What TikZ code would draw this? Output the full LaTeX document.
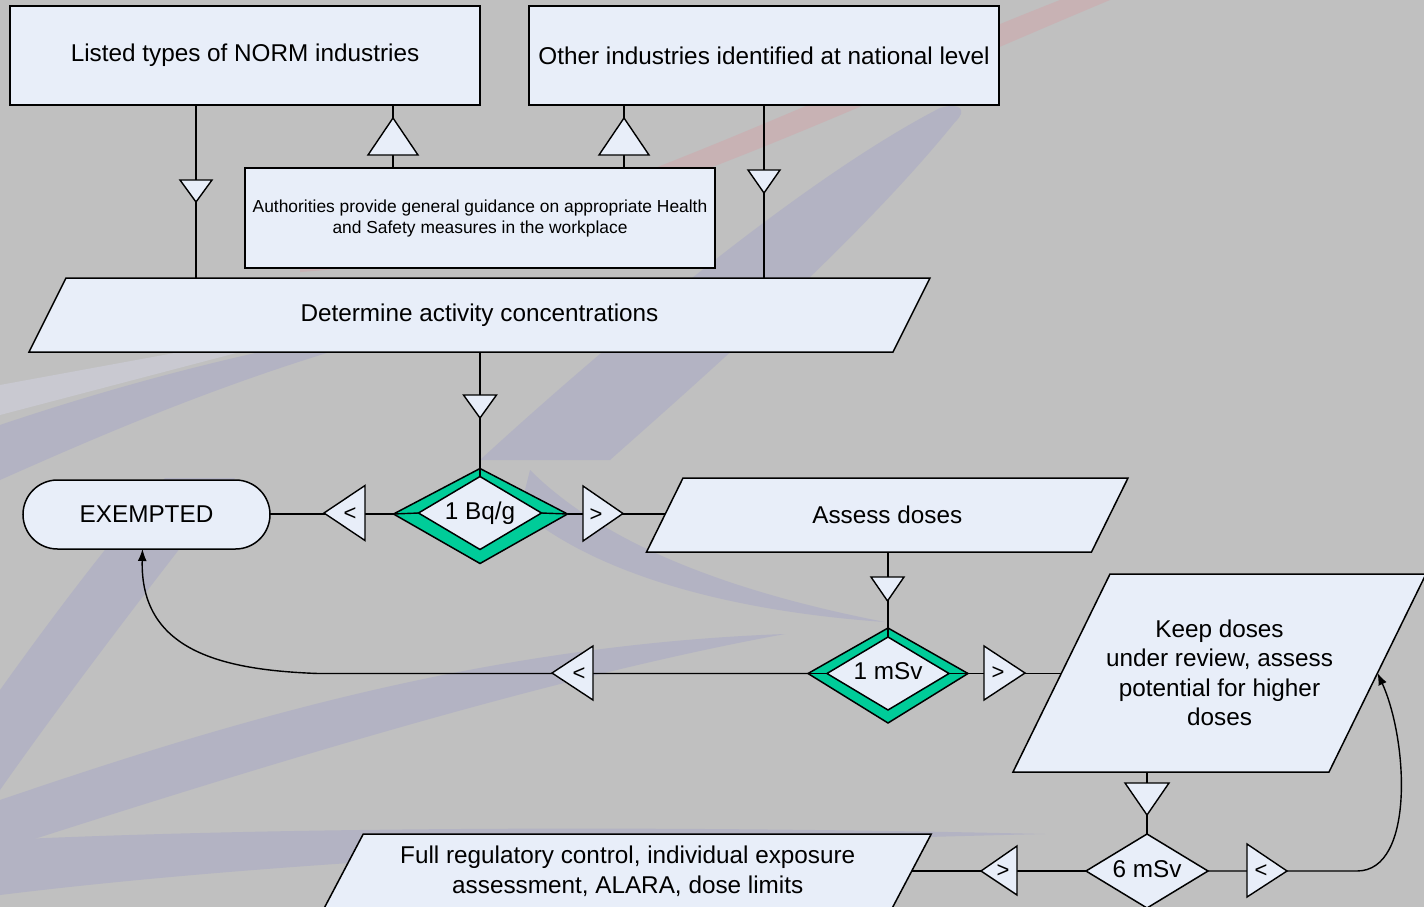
\documentclass[tikz,border=0pt]{standalone}
\usepackage{fontspec}
\setmainfont{Liberation Sans}
\usetikzlibrary{calc,shapes.geometric,arrows.meta}
\pgfdeclarelayer{bglayer}
\pgfdeclarelayer{backlayer}
\pgfsetlayers{bglayer,backlayer,main}
\definecolor{bgc}{RGB}{192,192,192}
\definecolor{boxfill}{RGB}{232,238,249}
\definecolor{bevel}{RGB}{0,204,153}
\definecolor{bandb}{RGB}{179,179,195}
\definecolor{bandl}{RGB}{201,201,209}
\definecolor{bandr}{RGB}{200,178,180}
\tikzset{
  big/.style={font=\fontsize{24.3}{29.5}\selectfont},
  small/.style={font=\fontsize{17.4}{21}\selectfont},
  box/.style={draw=black, line width=1.5pt, fill=boxfill},
  rectbox/.style={box, big, inner sep=0pt, outer sep=0pt, anchor=north west},
  paranode/.style={big, inner sep=0pt, outer sep=0pt, align=center},
  conn/.style={draw=black, line width=1.4pt},
  trist/.style={draw=black, line width=1.4pt, fill=boxfill, line join=miter},
  sign/.style={font=\fontsize{22}{22}\selectfont, inner sep=0pt},
  dia/.style={diamond, box, big, inner sep=0pt, outer sep=0pt, shape aspect=1.68, text height=17pt, text depth=5pt},
  bevelfill/.style={fill=bevel, draw=black, line width=1.5pt, line join=miter},
  arr/.style={conn, -{Latex[length=12pt,width=9pt]}}
}
\newcommand\paral[2]{\draw[box] ($(#1.north west)+(#2,0)$) -- ($(#1.north east)+(#2,0)$) -- ($(#1.south east)-(#2,0)$) -- ($(#1.south west)-(#2,0)$) -- cycle;}
\begin{document}
\begin{tikzpicture}[x=1pt,y=-1pt]
\useasboundingbox (0,0) rectangle (1424,907);
\begin{pgfonlayer}{bglayer}
\fill[bgc] (0,0) rectangle (1424,907);
% watermark swooshes
\fill[bandr] (300,272) .. controls (550,255) and (800,130) .. (1110,0) -- (1060,0) .. controls (780,110) and (540,240) .. (300,262) -- cycle;
\fill[bandb] (480,460) .. controls (600,350) and (800,180) .. (940,108) .. controls (960,102) and (968,110) .. (955,122) .. controls (860,240) and (700,380) .. (610,460) -- cycle;
\fill[bandb] (530,470) .. controls (600,540) and (720,590) .. (885,622) .. controls (740,612) and (600,578) .. (520,510) -- cycle;
\fill[bandl] (0,385) -- (180,352) -- (240,352) -- (0,415) -- cycle;
\fill[bandb] (0,425) .. controls (80,398) and (170,372) .. (260,352) -- (330,352) .. controls (200,392) and (90,440) .. (0,480) -- cycle;
\fill[bandb] (0,690) .. controls (50,620) and (110,540) .. (165,478) -- (235,478) .. controls (170,560) and (70,690) .. (0,790) -- cycle;
\fill[bandb] (0,800) .. controls (220,725) and (480,645) .. (785,634) .. controls (560,675) and (280,760) .. (0,850) -- cycle;
\fill[bandb] (0,840) .. controls (300,826) and (700,826) .. (1045,834) .. controls (700,842) and (300,858) .. (0,895) -- cycle;
\end{pgfonlayer}

% nodes
\node[rectbox, minimum width=470pt, minimum height=99pt] (listed) at (10,6) {Listed types of NORM industries};
\node[rectbox, minimum width=470pt, minimum height=99pt] (other) at (529,6) {Other industries identified at national level};
\node[rectbox, small, align=center, minimum width=470pt, minimum height=100pt] (auth) at (245,168) {Authorities provide general guidance on appropriate Health\\and Safety measures in the workplace};
\node[paranode, minimum width=864pt, minimum height=74pt] (det) at (479.5,315) {Determine activity concentrations};
\node[box, big, rounded corners=34.5pt, minimum width=247pt, minimum height=69pt, inner sep=0pt, outer sep=0pt] (exempt) at (146.5,514.5) {EXEMPTED};
\node[dia, minimum width=123pt, minimum height=73pt] (bqin) at (480,513) {1 Bq/g};
\node[paranode, minimum width=445pt, minimum height=74pt] (assess) at (887.25,515) {Assess doses};
\node[dia, minimum width=122pt, minimum height=73pt] (msvin) at (888,673.5) {1 mSv};
\node[paranode, minimum width=316pt, minimum height=198pt] (keep) at (1219.5,673) {Keep doses\\under review, assess\\potential for higher\\doses};
\node[dia, minimum width=122pt, minimum height=74pt] (six) at (1147,871) {6 mSv};
\node[paranode, minimum width=568pt, minimum height=74pt] (full) at (627.75,871) {Full regulatory control, individual exposure\\assessment, ALARA, dose limits};

% bevel outer corners
\coordinate (bqN) at ($(bqin.north)+(0,-8)$);
\coordinate (bqS) at ($(bqin.south)+(0,14)$);
\coordinate (bqW) at ($(bqin.west)+(-25,1)$);
\coordinate (bqE) at ($(bqin.east)+(26,1)$);
\coordinate (msvN) at ($(msvin.north)+(0,-9)$);
\coordinate (msvS) at ($(msvin.south)+(0,13)$);
\coordinate (msvW) at ($(msvin.west)+(-19,0)$);
\coordinate (msvE) at ($(msvin.east)+(19,0)$);
\coordinate (bendA) at (318,673.5);
\coordinate (bendB) at (1357,871);

\begin{pgfonlayer}{backlayer}
\paral{det}{18.5}
\paral{assess}{18.25}
\paral{keep}{48.5}
\paral{full}{19.5}
\draw[bevelfill] (bqN) -- (bqE) -- (bqS) -- (bqW) -- cycle;
\draw[bevelfill] (msvN) -- (msvE) -- (msvS) -- (msvW) -- cycle;
\end{pgfonlayer}

% connectors
\draw[conn] ([xshift=-49pt]listed.south) -- ([xshift=-49pt]listed.south |- det.north);
\draw[conn] ([xshift=-87pt]auth.north) -- ([xshift=-87pt]auth.north |- listed.south);
\draw[conn] ([xshift=144pt]auth.north) -- ([xshift=144pt]auth.north |- other.south);
\draw[conn] (other.south) -- (other.south |- det.north);
\draw[conn] (bqN |- det.south) -- (bqN);
\draw[conn] (bqN) -- (bqin.north);
\draw[conn] (bqW) -- (bqin.west);
\draw[conn] (bqE) -- (bqin.east);
\draw[conn] (bqW) -- (bqW -| exempt.east);
\draw[conn] (bqE) -- (bqE -| assess.west);
\draw[conn] (msvN |- assess.south) -- (msvN);
\draw[conn] (msvN) -- (msvin.north);
\draw[conn] (msvW) -- (msvin.west);
\draw[conn] (msvE) -- (msvin.east);
\draw[arr] (msvW) -- (bendA) .. controls (220,670) and (140,650) .. ([xshift=-4pt]exempt.south);
\draw[conn] (msvE) -- (msvE -| keep.west);
\draw[conn] (six.north |- keep.south) -- (six.north);
\draw[conn] (six.west) -- (six.west -| full.east);
\draw[arr] (six.east) -- (bendB) .. controls (1415,871) and (1408,740) .. (keep.east);

% flow triangles
\draw[trist] (180,180) -- (212,180) -- (196,202) -- cycle;
\draw[trist] (368,155) -- (418,155) -- (393,118) -- cycle;
\draw[trist] (599,155) -- (649,155) -- (624,118) -- cycle;
\draw[trist] (748,170) -- (780,170) -- (764,193) -- cycle;
\draw[trist] (463.5,395) -- (496.5,395) -- (480,418) -- cycle;
\draw[trist] (324,513) -- (365,485.5) -- (365,540.5) -- cycle;
\node[sign] (s1) at (350,514) {<};
\draw[trist] (583,486) -- (623,513.5) -- (583,541) -- cycle;
\node[sign] (s2) at (596,515) {>};
\draw[trist] (871,577) -- (904,577) -- (887.5,601) -- cycle;
\draw[trist] (984,646) -- (1025,673) -- (984,700) -- cycle;
\node[sign] (s3) at (998,673) {>};
\draw[trist] (552,673) -- (593,646) -- (593,700) -- cycle;
\node[sign] (s4) at (579,674) {<};
\draw[trist] (1125,783) -- (1169,783) -- (1147,815) -- cycle;
\draw[trist] (981,871) -- (1017,846) -- (1017,895) -- cycle;
\node[sign] (s5) at (1003,871) {>};
\draw[trist] (1247,844) -- (1287,871) -- (1247,897) -- cycle;
\node[sign] (s6) at (1261,871) {<};
\end{tikzpicture}
\end{document}
